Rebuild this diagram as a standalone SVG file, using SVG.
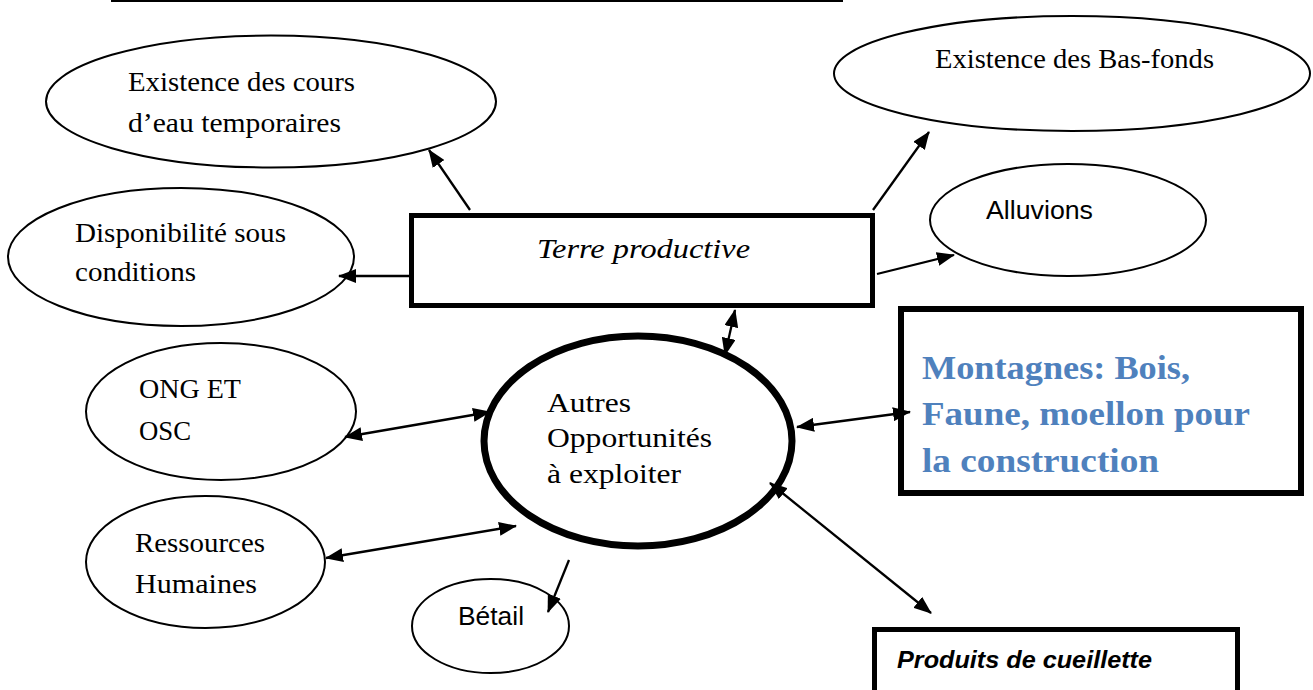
<svg xmlns="http://www.w3.org/2000/svg" width="1313" height="690" viewBox="0 0 1313 690">
<style>
.ell{fill:#fff;stroke:#000;stroke-width:2}
.box{fill:#fff;stroke:#000}
.serif{font-family:"Liberation Serif","Times New Roman",serif;font-size:28px;fill:#000}
.sans{font-family:"Liberation Sans",Arial,sans-serif;fill:#000}
.con line{stroke:#000;stroke-width:2.3;fill:none}
</style>
<defs>
<marker id="ah" markerUnits="userSpaceOnUse" markerWidth="18" markerHeight="14" refX="17" refY="7" orient="auto-start-reverse">
<path d="M0,0 L18,7 L0,14 z" fill="#000"/>
</marker>
</defs>
<rect width="1313" height="690" fill="#fff"/>
<line x1="111" y1="1" x2="843" y2="1" stroke="#000" stroke-width="2"/>

<g id="node-cours">
<ellipse class="ell" cx="271" cy="101.5" rx="225" ry="66"/>
<text class="serif" x="128" y="91" textLength="227" lengthAdjust="spacingAndGlyphs">Existence des cours</text>
<text class="serif" x="128" y="132" textLength="213" lengthAdjust="spacingAndGlyphs">d’eau temporaires</text>
</g>
<g id="node-basfonds">
<ellipse class="ell" cx="1072" cy="73.5" rx="238" ry="57.5"/>
<text class="serif" x="935" y="68" textLength="279" lengthAdjust="spacingAndGlyphs">Existence des Bas-fonds</text>
</g>
<g id="node-dispo">
<ellipse class="ell" cx="181" cy="257" rx="173" ry="69"/>
<text class="serif" x="75" y="242" textLength="211" lengthAdjust="spacingAndGlyphs">Disponibilité sous</text>
<text class="serif" x="75" y="281" textLength="121" lengthAdjust="spacingAndGlyphs">conditions</text>
</g>
<g id="node-terre">
<rect class="box" x="411.5" y="215.5" width="461" height="90" stroke-width="5"/>
<text class="serif" x="537" y="258" font-size="30" font-style="italic" textLength="213" lengthAdjust="spacingAndGlyphs">Terre productive</text>
</g>
<g id="node-alluvions">
<ellipse class="ell" cx="1068" cy="220" rx="138" ry="56"/>
<text class="sans" x="986" y="219" font-size="25" textLength="107" lengthAdjust="spacingAndGlyphs">Alluvions</text>
</g>
<g id="node-montagnes">
<rect class="box" x="901" y="309" width="400" height="184" stroke-width="6"/>
<g font-family="'Liberation Serif','Times New Roman',serif" font-weight="bold" font-size="34" fill="#4F81BD">
<text x="922" y="379" textLength="268" lengthAdjust="spacingAndGlyphs">Montagnes: Bois,</text>
<text x="922" y="425" textLength="328" lengthAdjust="spacingAndGlyphs">Faune, moellon pour</text>
<text x="922" y="472" textLength="237" lengthAdjust="spacingAndGlyphs">la construction</text>
</g>
</g>
<g id="node-ong">
<ellipse class="ell" cx="221" cy="411.5" rx="135" ry="68.5"/>
<text class="serif" x="139" y="398" textLength="102" lengthAdjust="spacingAndGlyphs">ONG ET</text>
<text class="serif" x="139" y="440" textLength="52" lengthAdjust="spacingAndGlyphs">OSC</text>
</g>
<g id="node-autres">
<ellipse cx="638" cy="441" rx="154" ry="105" fill="#fff" stroke="#000" stroke-width="7"/>
<text class="serif" x="547" y="412" textLength="84" lengthAdjust="spacingAndGlyphs">Autres</text>
<text class="serif" x="547" y="447" textLength="165" lengthAdjust="spacingAndGlyphs">Opportunités</text>
<text class="serif" x="547" y="483" textLength="134" lengthAdjust="spacingAndGlyphs">à exploiter</text>
</g>
<g id="node-ressources">
<ellipse class="ell" cx="205.5" cy="562" rx="119.5" ry="66"/>
<text class="serif" x="135" y="552" textLength="130" lengthAdjust="spacingAndGlyphs">Ressources</text>
<text class="serif" x="135" y="593" textLength="122" lengthAdjust="spacingAndGlyphs">Humaines</text>
</g>
<g id="node-betail">
<ellipse class="ell" cx="490.5" cy="626" rx="78.5" ry="47"/>
<text class="sans" x="458" y="625" font-size="26" textLength="66" lengthAdjust="spacingAndGlyphs">Bétail</text>
</g>
<g id="node-produits">
<rect class="box" x="874.5" y="629.5" width="363" height="90" stroke-width="5"/>
<text class="sans" x="897" y="668" font-size="23" font-weight="bold" font-style="italic" textLength="255" lengthAdjust="spacingAndGlyphs">Produits de cueillette</text>
</g>

<g id="connectors" class="con">
<line x1="470" y1="210" x2="429" y2="150" marker-end="url(#ah)"/>
<line x1="873" y1="210" x2="929" y2="132" marker-end="url(#ah)"/>
<line x1="410" y1="276" x2="339" y2="276" marker-end="url(#ah)"/>
<line x1="877" y1="274" x2="954" y2="255" marker-end="url(#ah)"/>
<line x1="735" y1="310" x2="725" y2="355" marker-start="url(#ah)" marker-end="url(#ah)"/>
<line x1="345" y1="437" x2="490" y2="412" marker-start="url(#ah)" marker-end="url(#ah)"/>
<line x1="326" y1="558" x2="516" y2="526" marker-start="url(#ah)" marker-end="url(#ah)"/>
<line x1="569" y1="560" x2="548" y2="612" marker-end="url(#ah)"/>
<line x1="797" y1="427" x2="910" y2="412" marker-start="url(#ah)" marker-end="url(#ah)"/>
<line x1="770" y1="483" x2="931" y2="613" marker-start="url(#ah)" marker-end="url(#ah)"/>
</g>
</svg>
